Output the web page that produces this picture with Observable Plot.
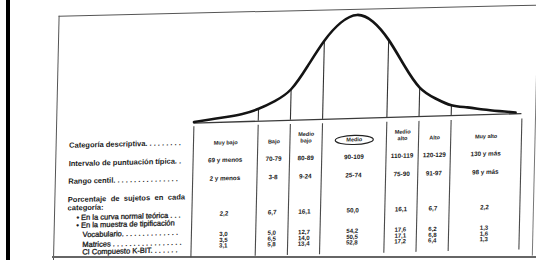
<!DOCTYPE html>
<html><head><meta charset="utf-8">
<script src="https://cdn.jsdelivr.net/npm/d3@7"></script>
<script src="https://cdn.jsdelivr.net/npm/@observablehq/plot@0.6"></script>
<style>
html,body{margin:0;padding:0;background:#fff;}
#stage{position:relative;width:536px;height:260px;overflow:hidden;background:#fff;font-family:"Liberation Sans",Arial,sans-serif;}
#bar{position:absolute;left:6px;top:0;width:4px;height:260px;background:#000;}
#frame{position:absolute;left:58.7px;top:17.4px;width:478px;height:250px;border-top:1.3px solid #555;border-left:1.3px solid #555;border-right:1.3px solid #777;transform:matrix(1,-0.023,-0.023,1,0,0);transform-origin:-58.7px -17.4px;}
#bottomline{position:absolute;left:52px;top:256.3px;width:484px;height:1.5px;background:#666;}
#curve{position:absolute;left:0;top:0;transform:matrix(1,-0.029,-0.023,1,0,0);transform-origin:0 0;}
#table{position:absolute;left:0;top:0;transform:matrix(1,-0.024,-0.023,1,0,0);transform-origin:0 0;}
</style></head>
<body>
<div id="stage">
  <div id="bar"></div>
  <div id="frame"></div>
  <div id="bottomline"></div>
  <div id="curve"></div>
  <div id="table"></div>
</div>
<script>
// ---- data ----
const categories = ["Muy bajo","Bajo","Medio bajo","Medio","Medio alto","Alto","Muy alto"];
const cutoffs = [70, 80, 90, 110, 120, 130];
const tableEdges = [50, 152];
const intervals = ["69 y menos","70-79","80-89","90-109","110-119","120-129","130 y más"];
const centiles = ["2 y menos","3-8","9-24","25-74","75-90","91-97","98 y más"];
const pctTheory = ["2,2","6,7","16,1","50,0","16,1","6,7","2,2"];
const pctVocab = ["3,0","5,0","12,7","54,2","17,6","6,2","1,3"];
const pctMatrices = ["3,5","6,5","14,0","50,5","17,1","6,8","1,6"];
const pctComposite = ["3,1","5,8","13,4","52,8","17,2","6,4","1,3"];
// curve height (percent of peak) at these scores
const curveIQ = [50,55,60,65,70,75,80,85,90,95,100,105,110,115,120,125,130,135,140,145,150];
const curveHeight = [1,3,5,7.5,12,19,30,52,76,93,100,93,75,50,28,17,10,7.5,5,3,1.2];
const rowLabels = [
  "Categoría descriptiva. . . . . . . . .",
  "Intervalo de puntuación típica. .",
  "Rango centil. . . . . . . . . . . . . . . .",
  "Porcentaje de sujetos en cada",
  "categoría:",
  "• En la curva normal teórica . . .",
  "• En la muestra de tipificación",
  "Vocabulario. . . . . . . . . . . . . .",
  "Matrices . . . . . . . . . . . . . . . . .",
  "CI Compuesto K-BIT. . . . . . ."
];

// ---- layout / style ----
const FONT = "'Liberation Sans', Arial, sans-serif";
const xRange = [196.4, 524.4];
const labelLayout = [
  {dx:72, cy:146.6, w:"bold"}, {dx:72, cy:165, w:"bold"}, {dx:72, cy:182.6, w:"bold"},
  {dx:72, cy:201, w:"bold"}, {dx:72, cy:209.3, w:"bold"},
  {dx:81, cy:219.1, w:"normal"}, {dx:81, cy:226.8, w:"normal"},
  {dx:87.6, cy:236.3, w:"normal"}, {dx:87.6, cy:246.3, w:"normal"}, {dx:87.6, cy:253.7, w:"normal"}
];

// ---- curve ----
const curveData = curveIQ.map((q, i) => ({q, h: curveHeight[i]}));
const hAt = q => curveHeight[curveIQ.indexOf(q)];
const curvePlot = Plot.plot({
  width: 536, height: 135, margin: 0,
  style: {background: "transparent", overflow: "visible", fontFamily: FONT},
  x: {domain: tableEdges, range: xRange, axis: null},
  y: {domain: [0, 100], range: [128.3, 24.8], axis: null},
  marks: [
    Plot.ruleY([0], {x1: tableEdges[0], x2: tableEdges[1], stroke: "#3a3a3a", strokeWidth: 1.4}),
    Plot.ruleX(cutoffs, {x: d => d, y1: 0, y2: d => hAt(d), stroke: "#333", strokeWidth: 1.1}),
    Plot.line(curveData, {x: "q", y: "h", curve: "natural", stroke: "#141414", strokeWidth: 2.6})
  ]
});
document.getElementById("curve").append(curvePlot);

// ---- table ----
const bounds = [tableEdges[0], ...cutoffs, tableEdges[1]];
const centers = bounds.slice(0, -1).map((b, i) => (b + bounds[i + 1]) / 2);
const T0 = 131;
const ink = "#1a1a1a";
function rowText(values, cy, size) {
  return Plot.text(values, {
    x: (d, i) => centers[i], text: d => d, frameAnchor: "top", dy: cy - T0,
    lineAnchor: "middle", fontSize: size, fontWeight: "bold", fill: ink
  });
}
const ovalSymbol = {
  draw(ctx, size) {
    const r = Math.sqrt(size / Math.PI), rx = r, ry = r * 0.24, k = 0.5523;
    ctx.moveTo(rx, 0);
    ctx.bezierCurveTo(rx, ry * k, rx * k, ry, 0, ry);
    ctx.bezierCurveTo(-rx * k, ry, -rx, ry * k, -rx, 0);
    ctx.bezierCurveTo(-rx, -ry * k, -rx * k, -ry, 0, -ry);
    ctx.bezierCurveTo(rx * k, -ry, rx, -ry * k, rx, 0);
    ctx.closePath();
  }
};
const tableMarks = [
  Plot.ruleX(bounds, {x: d => d, stroke: "#4a4a4a", strokeWidth: 1.1}),
  Plot.text(categories, {
    x: (d, i) => centers[i], text: d => d.replace(/^Medio (\S+)$/, "Medio\n$1"),
    frameAnchor: "top", dy: 149.4 - T0, lineAnchor: "bottom", lineHeight: 1.2,
    fontSize: 5.5, fontWeight: "bold", fill: ink
  }),
  Plot.dot([centers[3]], {x: d => d, frameAnchor: "top", dy: 148 - T0, r: 19, symbol: ovalSymbol,
    fill: "none", stroke: "#222", strokeWidth: 1.2}),
  rowText(intervals, 165, 6.3),
  rowText(centiles, 183.3, 6.3),
  rowText(pctTheory, 218.5, 6.3),
  rowText(pctVocab, 239, 6),
  rowText(pctMatrices, 245, 6),
  rowText(pctComposite, 250.6, 6),
  ...rowLabels.map((t, i) => Plot.text([t], {
    text: d => d, frameAnchor: "top-left", textAnchor: "start", lineAnchor: "middle",
    dx: labelLayout[i].dx, dy: labelLayout[i].cy - T0,
    fontSize: 7.5, fontWeight: labelLayout[i].w, fill: ink,
    ...(labelLayout[i].w === "normal" ? {stroke: ink, strokeWidth: 0.3} : {})
  }))
];
const tablePlot = Plot.plot({
  width: 536, height: 270, marginTop: T0, marginBottom: 8, marginLeft: 0, marginRight: 0,
  style: {background: "transparent", overflow: "visible", fontFamily: FONT},
  x: {domain: tableEdges, range: xRange, axis: null},
  marks: tableMarks
});
tablePlot.querySelectorAll("text").forEach(t => {
  if (t.textContent.startsWith("Porcentaje")) t.style.wordSpacing = "2.4px";
});
document.getElementById("table").append(tablePlot);
</script>
</body></html>
